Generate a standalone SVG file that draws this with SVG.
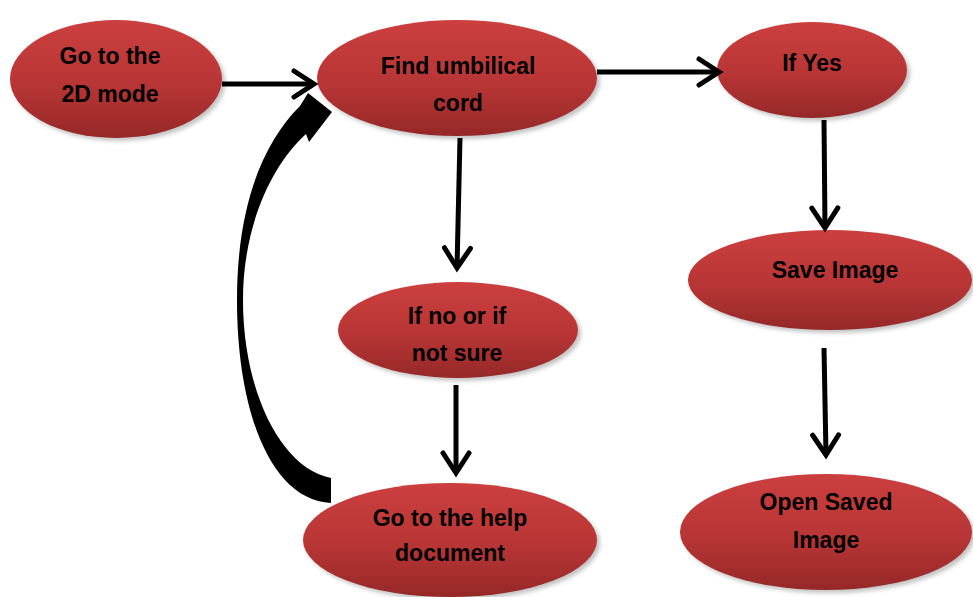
<svg xmlns="http://www.w3.org/2000/svg" width="973" height="597" viewBox="0 0 973 597">
<defs>
<linearGradient id="red" x1="0" y1="0" x2="0" y2="1">
<stop offset="0" stop-color="#cc3f3f"/>
<stop offset="0.55" stop-color="#b83535"/>
<stop offset="1" stop-color="#962828"/>
</linearGradient>
<filter id="sh" x="-20%" y="-20%" width="140%" height="140%">
<feGaussianBlur stdDeviation="2"/>
</filter>
<marker id="chev" markerUnits="userSpaceOnUse" markerWidth="40" markerHeight="40" viewBox="-30 -20 40 40" refX="0" refY="0" orient="auto">
<path d="M-20,-13 L0,0 L-20,13" fill="none" stroke="#000" stroke-width="5" stroke-linejoin="miter" stroke-linecap="round"/>
</marker>
</defs>
<style>
.node ellipse.b{fill:url(#red)}
.node ellipse.s{fill:#9a9a9a;opacity:0.6;filter:url(#sh)}
.node text{font-family:"Liberation Sans",Arial,sans-serif;font-weight:bold;font-size:23px;fill:#000;text-anchor:middle}
.conn line{stroke:#000;stroke-width:5;marker-end:url(#chev)}
</style>
<rect width="973" height="597" fill="#fff"/>
<g id="n1" class="node">
<ellipse class="s" cx="119" cy="82" rx="106" ry="59"/>
<ellipse class="b" cx="116" cy="79" rx="106" ry="59"/>
<text x="110" y="64">Go to the</text>
<text x="110" y="102">2D mode</text>
</g>
<g id="n2" class="node">
<ellipse class="s" cx="460" cy="81" rx="140" ry="58"/>
<ellipse class="b" cx="457" cy="78" rx="140" ry="58"/>
<text x="458" y="74">Find umbilical</text>
<text x="458" y="111">cord</text>
</g>
<g id="n3" class="node">
<ellipse class="s" cx="815" cy="73" rx="95" ry="48"/>
<ellipse class="b" cx="812" cy="70" rx="95" ry="48"/>
<text x="812" y="71">If Yes</text>
</g>
<g id="n4" class="node">
<ellipse class="s" cx="833" cy="283" rx="142" ry="50"/>
<ellipse class="b" cx="830" cy="280" rx="142" ry="50"/>
<text x="835" y="278">Save Image</text>
</g>
<g id="n5" class="node">
<ellipse class="s" cx="461" cy="333" rx="120" ry="48"/>
<ellipse class="b" cx="458" cy="330" rx="120" ry="48"/>
<text x="457" y="324">If no or if</text>
<text x="457" y="361">not sure</text>
</g>
<g id="n6" class="node">
<ellipse class="s" cx="453" cy="543" rx="147" ry="57"/>
<ellipse class="b" cx="450" cy="540" rx="147" ry="57"/>
<text x="450" y="526">Go to the help</text>
<text x="450" y="561">document</text>
</g>
<g id="n7" class="node">
<ellipse class="s" cx="829" cy="535" rx="146" ry="58"/>
<ellipse class="b" cx="826" cy="532" rx="146" ry="58"/>
<text x="826" y="510">Open Saved</text>
<text x="826" y="548">Image</text>
</g>
<g id="connectors" class="conn">
<line x1="222" y1="84" x2="314" y2="84"/>
<line x1="597" y1="72" x2="719" y2="72"/>
<line x1="460" y1="138" x2="457" y2="268"/>
<line x1="824" y1="120" x2="825" y2="228"/>
<line x1="824" y1="348" x2="826" y2="455"/>
<line x1="456" y1="385" x2="456" y2="473"/>
<path d="M331,503 C270,500 237,410 237,300 C237,205 263,143 300,106 L308,93 L332,112 L309,142 L306,134 C272,165 243,225 243,300 C243,390 280,468 331,478 Z" fill="#000"/>
</g>
</svg>
